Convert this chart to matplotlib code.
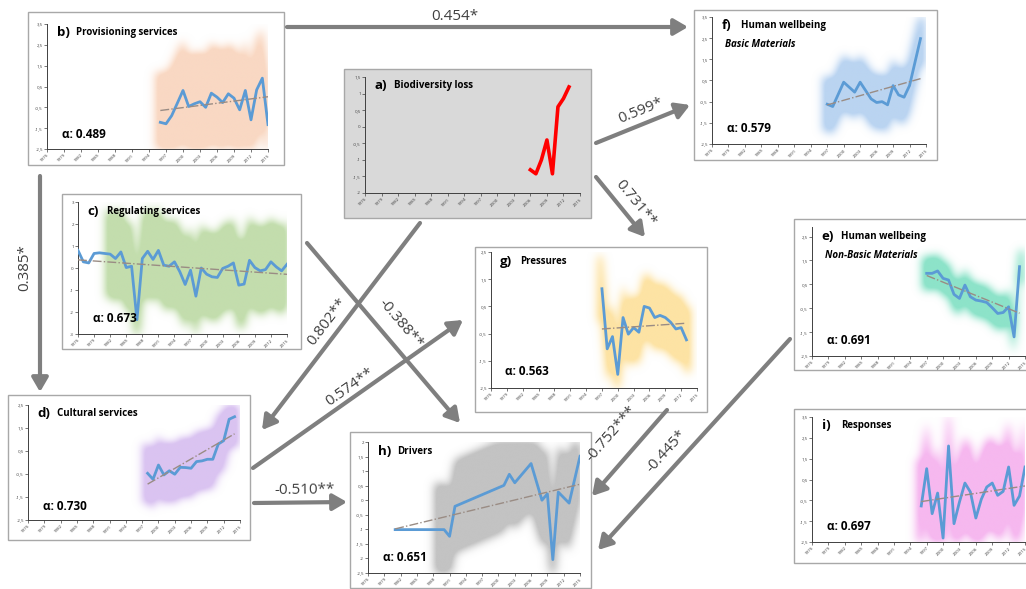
import numpy as np
import matplotlib
matplotlib.use('Agg')
import matplotlib.pyplot as plt
from matplotlib.patches import Rectangle, FancyArrowPatch
from matplotlib.colors import to_rgb
from matplotlib.ticker import FuncFormatter

plt.rcParams['font.family'] = ['Open Sans', 'DejaVu Sans']

# ---- data ----
years_a = [2006, 2007, 2008, 2009, 2010, 2011, 2012, 2013]
biodiv = [-1.3, -1.42, -1.0, -0.4, -1.42, 0.6, 0.85, 1.2]

years_b = list(range(1996, 2016))
provisioning = [-1.22, -1.29, -0.9, -0.3, 0.31, -0.46, -0.33, -0.23, -0.5, 0.18,
                -0.01, -0.27, 0.15, -0.06, -0.62, 0.31, -1.1, 0.34, 0.9, -1.33]

years_c = list(range(1976, 2016))
regulating = [0.8, 0.28, 0.23, 0.66, 0.69, 0.66, 0.63, 0.43, 0.73, 0.02,
              0.08, -2.35, 0.43, 0.76, 0.39, 0.8, 0.13, 0.08, 0.28, -0.17,
              -0.75, -0.1, -1.28, 0.0, -0.28, -0.4, -0.43, -0.02, 0.08, 0.23,
              -0.78, -0.73, 0.35, 0.02, -0.13, -0.07, 0.28, 0.05, -0.13, 0.17]

years_d = list(range(1998, 2015))
cultural = [-0.47, -0.73, -0.11, -0.54, -0.36, -0.51, -0.21, -0.22, -0.25,
            0.04, 0.07, 0.14, 0.14, 0.8, 0.95, 1.88, 1.99]

years_e = list(range(1997, 2015))
wb_nonbasic = [0.96, 0.96, 1.06, 0.75, 0.68, 0.08, -0.09, 0.47, -0.02, -0.16,
               -0.2, -0.26, -0.48, -0.72, -0.68, -0.44, -1.7, 1.24]

years_f = [1997, 1998, 2000, 2002, 2003, 2005, 2006, 2007, 2008, 2009, 2010, 2011, 2012, 2014]
wb_basic = [-0.62, -0.73, 0.42, -0.05, 0.42, -0.37, -0.54, -0.5, -0.65, 0.26,
            -0.18, -0.29, 0.26, 2.48]

years_g = list(range(1997, 2014))
pressures = [1.15, -1.06, -0.61, -2.0, 0.09, -0.52, -0.28, -0.45, 0.5, 0.44,
             0.09, 0.17, 0.09, -0.08, -0.33, -0.28, -0.73]

years_h = [1981, 1990, 1991, 1992, 2001, 2002, 2003, 2006, 2008, 2009, 2010, 2011, 2013, 2015]
drivers = [-1.01, -1.01, -1.24, -0.21, 0.51, 0.89, 0.6, 1.26, 0.0, 0.22, -2.04,
           0.28, -0.1, 1.51]

years_i = list(range(1996, 2016))
responses = [-0.77, 1.02, -1.14, -0.15, -2.31, 2.11, -1.62, -0.58, 0.33, -0.1,
             -1.35, -0.45, 0.14, 0.33, -0.26, -0.07, 1.1, -0.74, -0.29, 1.1]

# panel letter -> (title, subtitle, alpha text)
titles = {
    'a': ('Biodiversity loss', None, None),
    'b': ('Provisioning services', None, 'α: 0.489'),
    'c': ('Regulating services', None, 'α: 0.673'),
    'd': ('Cultural services', None, 'α: 0.730'),
    'e': ('Human wellbeing', 'Non-Basic Materials', 'α: 0.691'),
    'f': ('Human wellbeing', 'Basic Materials', 'α: 0.579'),
    'g': ('Pressures', None, 'α: 0.563'),
    'h': ('Drivers', None, 'α: 0.651'),
    'i': ('Responses', None, 'α: 0.697'),
}

# correlation arrows and their labels
corr_labels = ['0.454*', '0.599*', '0.731**', '0.385*', '0.802**', '-0.388**',
               '0.574**', '-0.510**', '-0.752***', '-0.445*']

W, H = 1026, 589
year_ticks = list(range(1976, 2016, 3))

fig = plt.figure(figsize=(W / 100, H / 100), dpi=100)
fig.patch.set_facecolor('white')

# background layer for the panel frames (pixel coordinates)
bg = fig.add_axes([0, 0, 1, 1])
bg.set_xlim(0, W)
bg.set_ylim(H, 0)
bg.axis('off')


def px_axes(box):
    x0, y0, x1, y1 = box
    return fig.add_axes([x0 / W, 1 - y1 / H, (x1 - x0) / W, (y1 - y0) / H])


def soft_band(ax, yrs, vals, half, color, ylim, start=None):
    # blurred envelope around the series, like the fuzzy coloured clouds
    nx, ny = 420, 260
    gx = np.linspace(1976, 2015, nx)
    gy = np.linspace(ylim[0], ylim[1], ny)
    x0 = (start if start else yrs[0]) - 0.8
    x1 = yrs[-1] + 0.8
    yi = np.interp(gx, yrs, vals)
    m = ((np.abs(gy[:, None] - yi[None, :]) < half) &
         ((gx >= x0) & (gx <= x1))[None, :]).astype(float)
    t = np.arange(-27, 28)
    k = np.exp(-t ** 2 / (2 * 9.0 ** 2))
    k /= k.sum()
    m = np.apply_along_axis(lambda r: np.convolve(r, k, mode='same'), 0, m)
    m = np.apply_along_axis(lambda r: np.convolve(r, k, mode='same'), 1, m)
    img = np.zeros((ny, nx, 4))
    img[..., :3] = to_rgb(color)
    img[..., 3] = np.clip(m * 1.5, 0, 1) * 0.9
    ax.imshow(img, extent=(1976, 2015, ylim[0], ylim[1]), origin='lower',
              aspect='auto', zorder=0, interpolation='bilinear')


comma = FuncFormatter(lambda v, p: f'{v:g}'.replace('.', ','))


def panel(letter, frame, box, yrs, vals, ylim, ystep, band_color=None, half=1.0,
          band_start=None, line_color='#5b9bd5', lw=2.0, trend=True, face='white',
          ytop=None):
    bg.add_patch(Rectangle((frame[0], frame[1]), frame[2] - frame[0], frame[3] - frame[1],
                           facecolor=face, edgecolor='#a8a8a8', lw=1.0))
    ax = px_axes(box)
    ax.patch.set_alpha(0)
    top = ytop if ytop is not None else ylim[1]
    if band_color:
        soft_band(ax, yrs, vals, half, band_color, (ylim[0], top), band_start)
    ax.plot(yrs, vals, color=line_color, lw=lw, zorder=3, solid_joinstyle='round')
    if trend:
        c = np.polyfit(yrs, vals, 1)
        xs = np.array([yrs[0], yrs[-1]])
        ax.plot(xs, np.polyval(c, xs), color='#9a8c84', lw=1.0, ls='-.', zorder=4)
    ax.set_xlim(1976, 2015)
    ax.set_ylim(ylim[0], top)
    ax.set_yticks(np.arange(ylim[0], ylim[1] + 0.01, ystep))
    ax.yaxis.set_major_formatter(comma)
    ax.set_xticks(year_ticks)
    ax.set_xticklabels([str(y) for y in year_ticks], rotation=45, ha='right',
                       rotation_mode='anchor')
    ax.tick_params(labelsize=3.2, colors='#404040', length=2, width=0.5, pad=1)
    for s in ['top', 'right']:
        ax.spines[s].set_visible(False)
    for s in ['left', 'bottom']:
        ax.spines[s].set_color('#404040')
        ax.spines[s].set_linewidth(0.7)
    name, sub, alpha = titles[letter]
    ax.text(0.045, 0.93, letter + ')', transform=ax.transAxes, fontsize=9.5,
            fontweight='bold', va='center', ha='left', zorder=6)
    ax.annotate(name, xy=(0.045, 0.93), xycoords='axes fraction', xytext=(14, 0),
                textcoords='offset points', fontsize=7, fontweight='bold',
                va='center', ha='left', zorder=6)
    if sub:
        ax.text(0.06, 0.78, sub, transform=ax.transAxes, fontsize=7,
                fontweight='bold', style='italic', va='center', ha='left', zorder=6)
    if alpha:
        ax.text(0.07, 0.12, alpha, transform=ax.transAxes, fontsize=8.5,
                fontweight='bold', va='center', ha='left', zorder=6)
    return ax


panel('b', (28, 12, 284, 165), (47, 24, 268, 149), years_b, provisioning,
      (-2.5, 3.5), 1, '#f9d4bc', 2.4)
panel('a', (344, 69, 591, 218), (365, 77, 580, 193), years_a, biodiv,
      (-2, 1.5), 0.5, line_color='#ff0000', lw=2.6, trend=False, face='#d9d9d9')
panel('c', (62, 194, 301, 349), (78, 202, 287, 334), years_c, regulating,
      (-3, 3), 1, '#bcdaa4', 2.0, band_start=1982)
panel('d', (8, 395, 250, 540), (28, 405, 240, 520), years_d, cultural,
      (-2.5, 2.5), 1, '#d6bdf0', 1.3)
panel('g', (475, 247, 707, 412), (491, 252, 697, 388), years_g, pressures,
      (-2.5, 2.5), 1, '#fde09a', 1.2)
panel('h', (350, 432, 591, 588), (368, 442, 580, 573), years_h, drivers,
      (-2.5, 2), 0.5, '#bcbcbc', 1.6, band_start=1989)
panel('f', (694, 10, 937, 160), (712, 17, 926, 144), years_f, wb_basic,
      (-2.5, 3.5), 1, '#b2cff0', 1.3)
panel('e', (794, 219, 1030, 370), (812, 227, 1025, 356), years_e, wb_nonbasic,
      (-2.5, 2.5), 1, '#80e0c3', 0.7, ytop=2.9)
panel('i', (794, 409, 1030, 563), (812, 417, 1025, 542), years_i, responses,
      (-2.5, 3.5), 1, '#f5b0ee', 2.2)

# ---- arrows on top layer ----
top = fig.add_axes([0, 0, 1, 1])
top.set_xlim(0, W)
top.set_ylim(H, 0)
top.axis('off')
top.patch.set_alpha(0)

arrow_pts = [((287, 27), (688, 27)),     # b -> f
             ((596, 143), (690, 105)),   # a -> f
             ((596, 177), (645, 237)),   # a -> g
             ((40, 176), (40, 392)),     # b -> d
             ((420, 223), (262, 430)),   # a -> d
             ((307, 243), (460, 423)),   # c -> h
             ((253, 468), (463, 320)),   # d -> g
             ((254, 503), (347, 502)),   # d -> h
             ((667, 410), (592, 496)),   # g -> h
             ((790, 339), (598, 550))]   # e -> h
label_pos = [(455, 16), (641, 111), (636, 203), (25, 268), (327, 322),
             (401, 324), (350, 387), (305, 490), (611, 434), (666, 451)]

for (p0, p1), txt, (lx, ly) in zip(arrow_pts, corr_labels, label_pos):
    top.add_patch(FancyArrowPatch(p0, p1, arrowstyle='-|>,head_length=0.6,head_width=0.35',
                                  mutation_scale=14, lw=3, color='#7f7f7f',
                                  shrinkA=0, shrinkB=0))
    dx, dy = p1[0] - p0[0], p0[1] - p1[1]
    ang = np.degrees(np.arctan2(dy, dx))
    if ang > 90:
        ang -= 180
    elif ang <= -90:
        ang += 180
    top.text(lx, ly, txt, rotation=ang, rotation_mode='anchor', ha='center',
             va='center', fontsize=11, color='#404040')

fig.savefig('out.png', dpi=100)
